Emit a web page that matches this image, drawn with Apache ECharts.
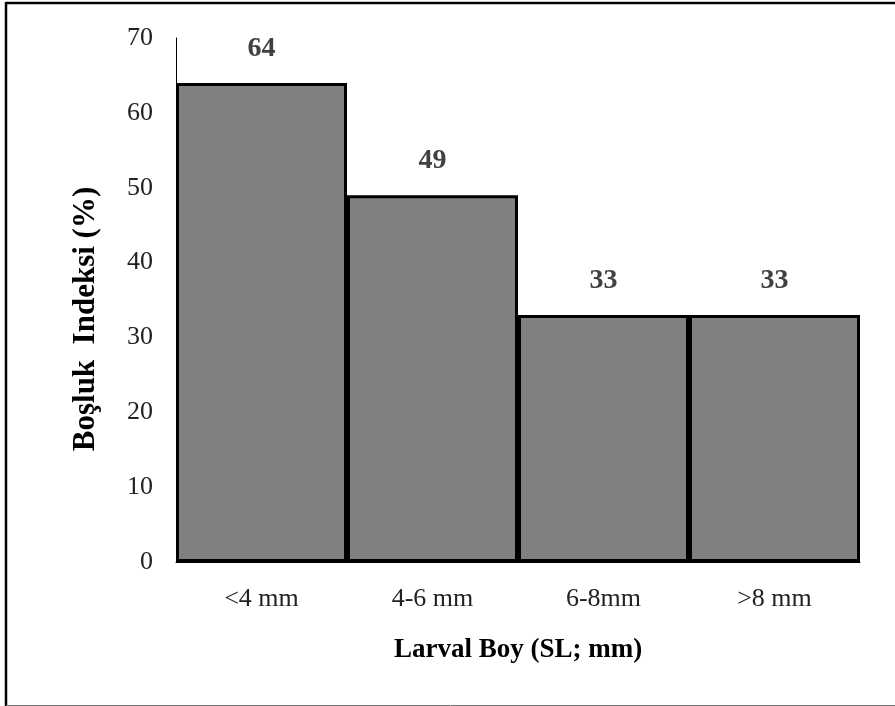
<!DOCTYPE html>
<html>
<head>
<meta charset="utf-8">
<script src="https://cdn.jsdelivr.net/npm/echarts@6/dist/echarts.min.js"></script>
<style>
html,body{margin:0;padding:0;background:#fff;}
#c{width:895px;height:706px;}
</style>
</head>
<body>
<div id="c"></div>
<script>
const categories = ['<4 mm', '4-6 mm', '6-8mm', '>8 mm'];
const values = [64, 49, 33, 33];
const yTicks = [0, 10, 20, 30, 40, 50, 60, 70];
const xTitle = 'Larval Boy (SL; mm)';
const yTitle = 'Boşluk  Indeksi (%)';

const chart = echarts.init(document.getElementById('c'), null, {renderer: 'canvas'});
const serif = '"Liberation Serif", "Times New Roman", serif';
chart.setOption({
  animation: false,
  backgroundColor: '#fff',
  grid: {left: 176, right: 35, top: 38, bottom: 144, containLabel: false},
  graphic: [
    {type: 'line', shape: {x1: 6, y1: 3, x2: 895, y2: 3}, style: {stroke: '#000', lineWidth: 2.5}},
    {type: 'line', shape: {x1: 6, y1: 2, x2: 6, y2: 706}, style: {stroke: '#000', lineWidth: 2.5}},
    {type: 'line', shape: {x1: 6, y1: 705.5, x2: 895, y2: 705.5}, style: {stroke: '#777', lineWidth: 1}}
  ],
  xAxis: {
    type: 'category',
    data: categories,
    name: xTitle,
    nameLocation: 'middle',
    nameGap: 75,
    nameTextStyle: {fontFamily: serif, fontSize: 27, fontWeight: 'bold', color: '#000'},
    axisLine: {show: true, lineStyle: {color: '#000', width: 1}},
    axisTick: {show: false},
    axisLabel: {fontFamily: serif, fontSize: 26, color: '#222', margin: 24}
  },
  yAxis: {
    type: 'value',
    min: 0, max: 70, interval: 10,
    name: yTitle,
    nameLocation: 'middle',
    nameGap: 75,
    nameRotate: 90,
    nameTextStyle: {fontFamily: serif, fontSize: 31, fontWeight: 'bold', color: '#000',
      padding: [0, 38, 0, 0]},
    splitLine: {show: false},
    axisLine: {show: true, lineStyle: {color: '#000', width: 1}},
    axisTick: {show: false},
    axisLabel: {fontFamily: serif, fontSize: 26, color: '#222', margin: 23,
      formatter: v => yTicks.includes(v) ? String(v) : ''}
  },
  series: [{
    type: 'bar',
    data: values,
    barCategoryGap: '0%',
    itemStyle: {color: '#808080', borderColor: '#000', borderWidth: 3},
    label: {show: true, position: 'top', distance: 20, fontFamily: serif, fontSize: 28,
      fontWeight: 'bold', color: '#404040'}
  }]
});
</script>
</body>
</html>
